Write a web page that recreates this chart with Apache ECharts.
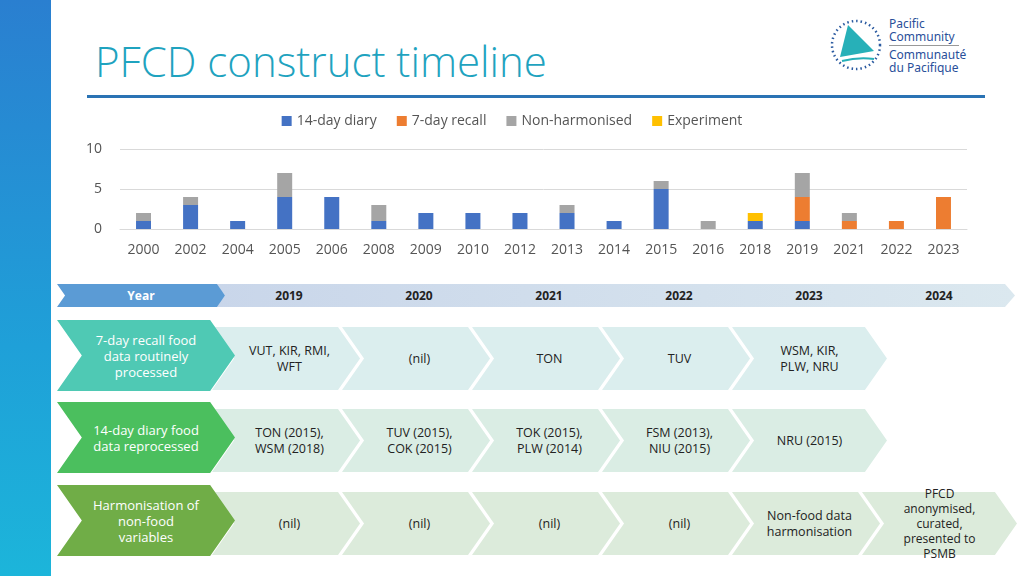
<!DOCTYPE html>
<html><head><meta charset="utf-8">
<script src="https://cdn.jsdelivr.net/npm/echarts@6/dist/echarts.min.js"></script>
<style>
body{margin:0;width:1024px;height:576px;overflow:hidden;background:#fff;font-family:"Open Sans",sans-serif;position:relative}
#strip{position:absolute;left:0;top:0;width:51px;height:576px;background:linear-gradient(180deg,#2a7fd0,#1fa0d8 60%,#1cb5da)}
#title{position:absolute;left:95px;top:32px;font-size:42px;color:#1fa3bf;font-family:"Open Sans",sans-serif;font-weight:300}
#rule{position:absolute;left:87px;top:95px;width:898px;height:3px;background:#2a73b4}
#chart{position:absolute;left:0;top:0;width:1024px;height:270px}
.w{position:absolute;filter:drop-shadow(-4px 0 0 #fff)}
.bgc{width:100%;height:100%}
.txt{position:absolute;left:0;top:0;width:100%;height:100%;display:flex;align-items:center;justify-content:center;text-align:center}
#logo{position:absolute;left:828px;top:17px}
#logotxt{position:absolute;left:889px;top:17px;font-size:12px;line-height:13px;color:#2a4f9a;font-family:"Noto Sans",sans-serif}
</style></head><body>
<div id="strip"></div>
<div id="title">PFCD construct timeline</div>
<div id="rule"></div>
<svg id="logo" width="56" height="56"><circle cx="28" cy="28" r="24" fill="none" stroke="#2a5aa0" stroke-width="2.5" stroke-dasharray="1.5 3"/><polygon points="12,40 20,8 46,34" fill="#27b0b8"/><path d="M14,44 Q30,40 46,42" stroke="#27b0b8" stroke-width="2" fill="none"/></svg>
<div id="logotxt">Pacific<br>Community<div style="border-top:1px solid #999;margin:2px 0;width:70px"></div>Communauté<br>du Pacifique</div>
<div id="chart"></div>
<div id="tl"></div>
<script>
var years=['2000','2002','2004','2005','2006','2008','2009','2010','2012','2013','2014','2015','2016','2018','2019','2021','2022','2023'];
var diary14=[1,3,1,4,4,1,2,2,2,2,1,5,0,1,1,0,0,0];
var recall7=[0,0,0,0,0,0,0,0,0,0,0,0,0,0,3,1,1,4];
var nonHarm=[1,1,0,3,0,2,0,0,0,1,0,1,1,0,3,1,0,0];
var experiment=[0,0,0,0,0,0,0,0,0,0,0,0,0,1,0,0,0,0];
var tlYears=['2019','2020','2021','2022','2023','2024'];
var rowLabels=['7-day recall food<br>data routinely<br>processed','14-day diary food<br>data reprocessed','Harmonisation of<br>non-food<br>variables'];
var row1=['VUT, KIR, RMI,<br>WFT','(nil)','TON','TUV','WSM, KIR,<br>PLW, NRU'];
var row2=['TON (2015),<br>WSM (2018)','TUV (2015),<br>COK (2015)','TOK (2015),<br>PLW (2014)','FSM (2013),<br>NIU (2015)','NRU (2015)'];
var row3=['(nil)','(nil)','(nil)','(nil)','Non-food data<br>harmonisation','PFCD<br>anonymised,<br>curated,<br>presented to<br>PSMB'];

var ch=echarts.init(document.getElementById('chart'));
function s(n,d,c){return {name:n,type:'bar',stack:'a',data:d,itemStyle:{color:c},barWidth:15};}
ch.setOption({animation:false,
legend:{top:109,left:'center',itemWidth:10,itemHeight:10,itemGap:20,textStyle:{fontSize:14,color:'#555',fontFamily:'Open Sans'},icon:'rect'},
grid:{left:120,right:57,top:149,height:80},
xAxis:{type:'category',data:years,axisTick:{show:false},axisLine:{lineStyle:{color:'#d9d9d9'}},axisLabel:{fontSize:14,color:'#555',margin:14,fontFamily:'Open Sans'}},
yAxis:{type:'value',min:0,max:10,interval:5,axisLabel:{fontSize:14,color:'#555',margin:18,fontFamily:'Open Sans'},splitLine:{lineStyle:{color:'#d9d9d9'}}},
series:[s('14-day diary',diary14,'#4472c4'),s('7-day recall',recall7,'#ed7d31'),s('Non-harmonised',nonHarm,'#a5a5a5'),s('Experiment',experiment,'#ffc000')]});

var tl=document.getElementById('tl'),h='';
function chev(x,y,w,hh,bg,col,txt,fs,bold,lh){
 var n=hh/2*0.7;
 var cp=`polygon(0 0,${w-n}px 0,${w}px 50%,${w-n}px 100%,0 100%,${n}px 50%)`;
 h+=`<div class="w" style="left:${x}px;top:${y}px;width:${w}px;height:${hh}px"><div class="bgc" style="background:${bg};clip-path:${cp}"></div></div>`;
 h+=`<div class="txt" style="left:${x}px;top:${y}px;width:${w}px;height:${hh}px;color:${col};font-size:${fs}px;line-height:${lh||16}px;${bold?'font-weight:bold;':''}"><div>${txt}</div></div>`;
}
h+=`<div style="position:absolute;left:215px;top:284px;width:800px;height:23px;background:linear-gradient(90deg,#c9d6ea,#dbe8ef);clip-path:polygon(0 0,790px 0,800px 50%,790px 100%,0 100%,10px 50%)"></div>`;
chev(57,284,168,23,'#5b9bd5','#fff','Year',12,true);
tlYears.forEach(function(t,i){h+=`<div style="position:absolute;display:flex;align-items:center;justify-content:center;left:${224+i*130}px;top:284px;width:130px;height:23px;font-size:12px;font-weight:bold;color:#222">${t}</div>`;});
var rows=[[row1,320,'#4fc9b4','#dbeeee'],[row2,402,'#4bbf5e','#daede4'],[row3,485,'#70ad47','#dcebdb']];
rows.forEach(function(r,k){
 var y=r[1];
 r[0].forEach(function(t,i){ chev(212+i*130,y+7,155,63,r[3],'#222',t,i==5?12:12.5,false,i==5?15:16);});
 chev(57,y,178,71,r[2],'#fff',rowLabels[k],13);
});
tl.innerHTML=h;
</script>
</body></html>
